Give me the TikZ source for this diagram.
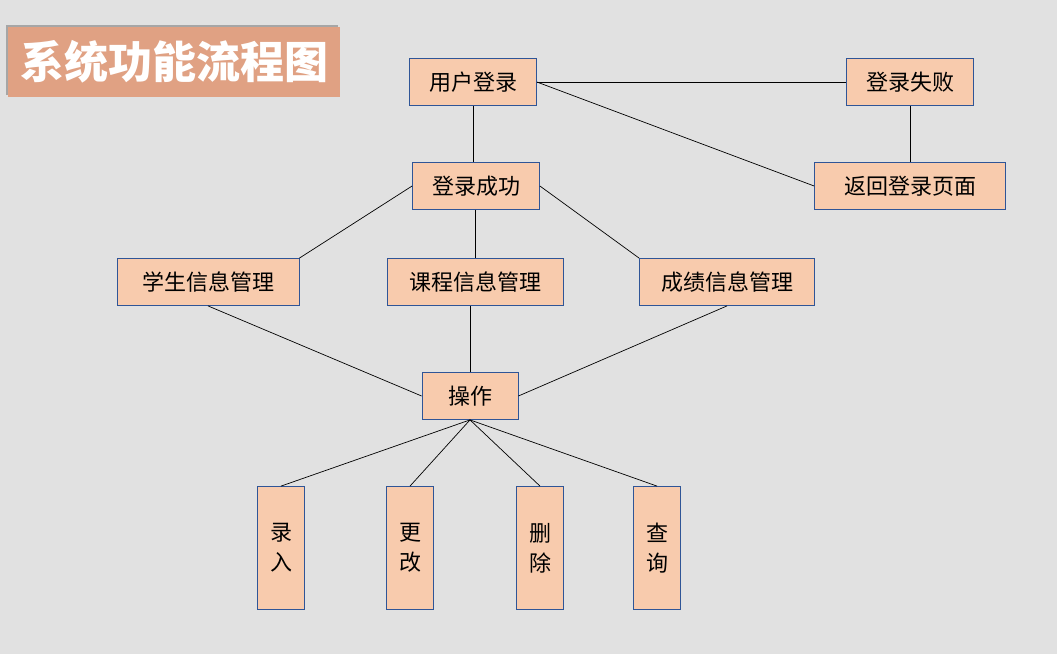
\documentclass[tikz,border=0pt]{standalone}
\usepackage{fontspec}
\newfontfamily\cjk{Noto Sans CJK SC}
\usetikzlibrary{shadows}
\definecolor{nen}{HTML}{E1E1E1}
\definecolor{hopnen}{HTML}{F8CBAD}
\definecolor{vien}{HTML}{2F5597}
\definecolor{tieude}{HTML}{E0A183}
\begin{document}
\begin{tikzpicture}[x=1pt,y=-1pt,line cap=butt,line join=miter]
		\tikzset{hop/.style={draw=vien,fill=hopnen,line width=0.8pt,inner sep=0pt,
				minimum height=47pt,font=\cjk\fontsize{22}{26}\selectfont},
			dung/.style={hop,minimum width=47pt,minimum height=123pt,align=center,
				font=\cjk\fontsize{22}{30}\selectfont},
			noi/.style={draw=black,line width=0.7pt}}
		\fill[nen] (0,0) rectangle (1057,654);
		\useasboundingbox (0,0) rectangle (1057,654);
		%--------- Tiêu đề
		\node[fill=tieude,minimum width=332pt,minimum height=70pt,inner sep=0pt,
			general shadow={shadow xshift=-2pt,shadow yshift=2pt,fill=gray!70},
			text=white,font=\cjk\bfseries\fontsize{44}{48}\selectfont] (tieude) at (174,62) {系统功能流程图};
		%--------- Các hộp
		\node[hop,minimum width=127pt] (dangnhap) at (473,82) {用户登录};
		\node[hop,minimum width=127pt] (thatbai) at (910,82) {登录失败};
		\node[hop,minimum width=127pt] (thanhcong) at (476,186) {登录成功};
		\node[hop,minimum width=191pt] (quaylai) at (910,186) {返回登录页面};
		\node[hop,minimum width=182pt] (hocsinh) at (208,282) {学生信息管理};
		\node[hop,minimum width=176pt] (khoahoc) at (475,282) {课程信息管理};
		\node[hop,minimum width=175pt] (diem) at (727,282) {成绩信息管理};
		\node[hop,minimum width=96pt] (thaotac) at (470,396) {操作};
		\node[dung] (nhap) at (281,548) {录\\入};
		\node[dung] (sua) at (410,548) {更\\改};
		\node[dung] (xoa) at (540,548) {删\\除};
		\node[dung] (tim) at (657,548) {查\\询};
		%--------- Đường nối
		\draw[noi] (dangnhap.south) -- (dangnhap.south|-thanhcong.north);
		\draw[noi] (dangnhap.east) -- (thatbai.west);
		\draw[noi] (dangnhap.east) -- (quaylai.west);
		\draw[noi] (thatbai.south) -- (quaylai.north);
		\draw[noi] (thanhcong.west) -- (hocsinh.north east);
		\draw[noi] (thanhcong.south-|khoahoc.north) -- (khoahoc.north);
		\draw[noi] (thanhcong.east) -- (diem.north west);
		\draw[noi] (hocsinh.south) -- (thaotac.west);
		\draw[noi] (khoahoc.south-|thaotac.north) -- (thaotac.north);
		\draw[noi] (diem.south) -- (thaotac.east);
		\foreach \o in {nhap,sua,xoa,tim}
		\draw[noi] (thaotac.south) -- (\o.north);
	\end{tikzpicture}
\end{document}
